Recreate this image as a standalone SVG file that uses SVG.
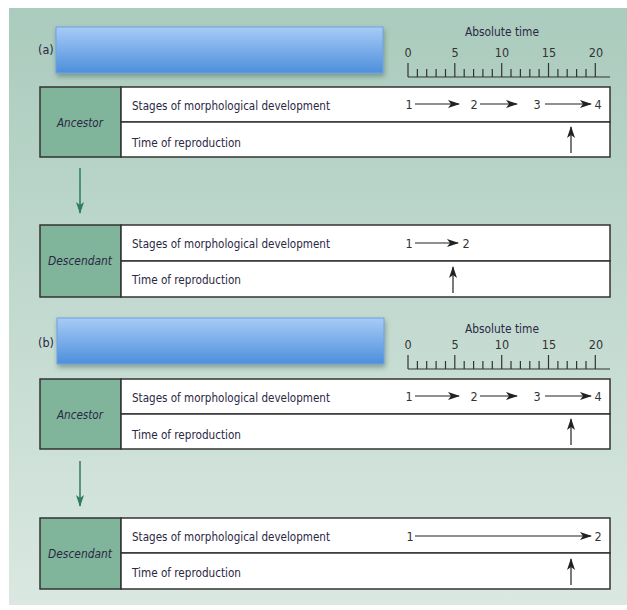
<svg xmlns="http://www.w3.org/2000/svg" width="627" height="610" viewBox="0 0 627 610">
<defs>
<linearGradient id="bg" x1="0" y1="0" x2="0" y2="1">
<stop offset="0" stop-color="#aacbbd"/>
<stop offset="1" stop-color="#dae8e1"/>
</linearGradient>
<linearGradient id="blue" x1="0" y1="0" x2="0" y2="1">
<stop offset="0" stop-color="#a8cbf7"/>
<stop offset="1" stop-color="#4d8fdb"/>
</linearGradient>
<filter id="shadow" x="-10%" y="-30%" width="120%" height="170%">
<feDropShadow dx="1" dy="3" stdDeviation="2.5" flood-color="#335544" flood-opacity="0.45"/>
</filter>
<marker id="ah" viewBox="0 0 12 8" refX="11" refY="4" markerWidth="12" markerHeight="8" markerUnits="userSpaceOnUse" orient="auto">
<path d="M0,0 L12,4 L0,8 L3,4 Z" fill="#222"/>
</marker>
<marker id="ahg" viewBox="0 0 12 8" refX="11" refY="4" markerWidth="12" markerHeight="8" markerUnits="userSpaceOnUse" orient="auto">
<path d="M0,0 L12,4 L0,8 L3,4 Z" fill="#2e7d5b"/>
</marker>
<g id="ruler">
<line x1="408" y1="0" x2="610" y2="0"/>
<path d="M408,0V-14M417.4,0V-8M426.7,0V-8M436.1,0V-8M445.5,0V-8M454.8,0V-14M464.2,0V-8M473.6,0V-8M482.9,0V-8M492.3,0V-8M501.7,0V-14M511,0V-8M520.4,0V-8M529.8,0V-8M539.1,0V-8M548.5,0V-14M557.9,0V-8M567.2,0V-8M576.6,0V-8M586,0V-8M595.3,0V-14"/>
</g>
</defs>
<style>
.t{font-family:"Liberation Sans Narrow","DejaVu Sans Condensed","Liberation Sans",sans-serif;fill:#2b2744}
.lab{font-size:13px}
.num{font-size:12.5px;text-anchor:middle;fill:#333}
.it{font-style:italic;font-size:13px;text-anchor:middle}
.cell{fill:#80b49b;stroke:#333;stroke-width:1.5}
.row{fill:#fff;stroke:#333;stroke-width:1.5}
.ar{stroke:#222;stroke-width:1.2;fill:none;marker-end:url(#ah)}
.ga{stroke:#2e7d5b;stroke-width:1.5;marker-end:url(#ahg)}
.rl{stroke:#333;stroke-width:1.2;fill:none}
.bar{fill:url(#blue);stroke:#6fa2e2;stroke-width:1;filter:url(#shadow)}
</style>
<rect x="9" y="8" width="618" height="597" fill="url(#bg)"/>

<g id="panel-a-header">
<text class="t" x="38" y="54" font-size="12.5">(a)</text>
<rect class="bar" x="56" y="27" width="327" height="46"/>
<text class="t" x="502" y="36" font-size="12.5" text-anchor="middle" textLength="74" lengthAdjust="spacingAndGlyphs">Absolute time</text>
<g class="t num"><text x="408" y="57">0</text><text x="455" y="57">5</text><text x="502" y="57">10</text><text x="549" y="57">15</text><text x="596" y="57">20</text></g>
<use href="#ruler" class="rl" transform="translate(0,77)"/>
</g>

<g id="ancestor-a">
<rect class="cell" x="40" y="87" width="81" height="70"/>
<rect class="row" x="121" y="87" width="489" height="35"/>
<rect class="row" x="121" y="122" width="489" height="35"/>
<text class="t it" x="80" y="127" textLength="46" lengthAdjust="spacingAndGlyphs">Ancestor</text>
<text class="t lab" x="132" y="109.5" textLength="198" lengthAdjust="spacingAndGlyphs">Stages of morphological development</text>
<text class="t lab" x="132" y="146.5" textLength="109" lengthAdjust="spacingAndGlyphs">Time of reproduction</text>
<g class="t num"><text x="409" y="109">1</text><text x="474" y="109">2</text><text x="537" y="109">3</text><text x="598" y="109">4</text></g>
<line class="ar" x1="415" y1="104" x2="459" y2="104"/>
<line class="ar" x1="480" y1="104" x2="517" y2="104"/>
<line class="ar" x1="545" y1="104" x2="591" y2="104"/>
<line class="ar" x1="571" y1="153" x2="571" y2="127"/>
</g>

<g id="descendant-a">
<rect class="cell" x="40" y="225" width="81" height="72"/>
<rect class="row" x="121" y="225" width="489" height="36"/>
<rect class="row" x="121" y="261" width="489" height="36"/>
<text class="t it" x="80" y="265" textLength="64" lengthAdjust="spacingAndGlyphs">Descendant</text>
<text class="t lab" x="132" y="248" textLength="198" lengthAdjust="spacingAndGlyphs">Stages of morphological development</text>
<text class="t lab" x="132" y="284" textLength="109" lengthAdjust="spacingAndGlyphs">Time of reproduction</text>
<g class="t num"><text x="409" y="248">1</text><text x="466" y="248">2</text></g>
<line class="ar" x1="415" y1="243" x2="458" y2="243"/>
<line class="ar" x1="453" y1="293" x2="453" y2="267"/>
</g>

<g id="panel-b-header">
<text class="t" x="38" y="347" font-size="12.5">(b)</text>
<rect class="bar" x="57" y="318" width="327" height="46"/>
<text class="t" x="502" y="333" font-size="12.5" text-anchor="middle" textLength="74" lengthAdjust="spacingAndGlyphs">Absolute time</text>
<g class="t num"><text x="408" y="349">0</text><text x="455" y="349">5</text><text x="502" y="349">10</text><text x="549" y="349">15</text><text x="596" y="349">20</text></g>
<use href="#ruler" class="rl" transform="translate(0,369)"/>
</g>

<g id="ancestor-b">
<rect class="cell" x="40" y="379" width="81" height="70"/>
<rect class="row" x="121" y="379" width="489" height="35"/>
<rect class="row" x="121" y="414" width="489" height="35"/>
<text class="t it" x="80" y="419" textLength="46" lengthAdjust="spacingAndGlyphs">Ancestor</text>
<text class="t lab" x="132" y="401.5" textLength="198" lengthAdjust="spacingAndGlyphs">Stages of morphological development</text>
<text class="t lab" x="132" y="438.5" textLength="109" lengthAdjust="spacingAndGlyphs">Time of reproduction</text>
<g class="t num"><text x="409" y="401">1</text><text x="474" y="401">2</text><text x="537" y="401">3</text><text x="598" y="401">4</text></g>
<line class="ar" x1="415" y1="396" x2="459" y2="396"/>
<line class="ar" x1="480" y1="396" x2="517" y2="396"/>
<line class="ar" x1="545" y1="396" x2="591" y2="396"/>
<line class="ar" x1="571" y1="445" x2="571" y2="419"/>
</g>

<g id="descendant-b">
<rect class="cell" x="40" y="518" width="81" height="71"/>
<rect class="row" x="121" y="518" width="489" height="35"/>
<rect class="row" x="121" y="553" width="489" height="36"/>
<text class="t it" x="80" y="558" textLength="64" lengthAdjust="spacingAndGlyphs">Descendant</text>
<text class="t lab" x="132" y="540.5" textLength="198" lengthAdjust="spacingAndGlyphs">Stages of morphological development</text>
<text class="t lab" x="132" y="576.5" textLength="109" lengthAdjust="spacingAndGlyphs">Time of reproduction</text>
<g class="t num"><text x="410" y="540.5">1</text><text x="598" y="540.5">2</text></g>
<line class="ar" x1="415" y1="536" x2="591" y2="536"/>
<line class="ar" x1="571" y1="585" x2="571" y2="559"/>
</g>

<g id="connectors">
<line class="ga" x1="80" y1="168" x2="80" y2="213"/>
<line class="ga" x1="80" y1="461" x2="80" y2="506"/>
</g>
</svg>
